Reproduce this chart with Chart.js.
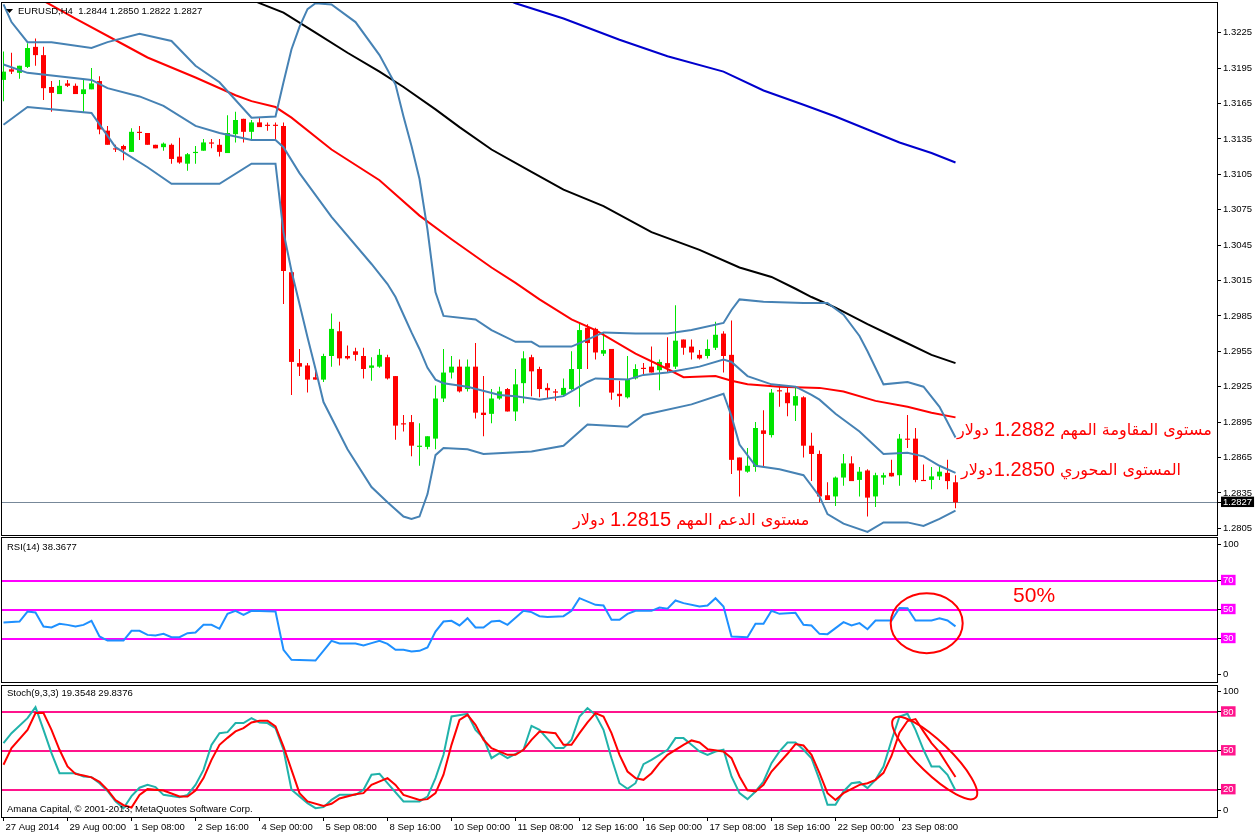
<!DOCTYPE html>
<html>
<head>
<meta charset="utf-8">
<script src="https://cdn.jsdelivr.net/npm/chart.js@4.4.1/dist/chart.umd.min.js"></script>
<style>
  html, body { margin: 0; padding: 0; background: #fff; }
  #wrap { position: relative; width: 1258px; height: 835px; overflow: hidden; }
  #wrap canvas { position: absolute; left: 0; }
</style>
</head>
<body>
<div id="wrap">
  <canvas id="mainChart" width="1258" height="537" style="top:0px"></canvas>
  <canvas id="rsiChart" width="1258" height="147" style="top:536px"></canvas>
  <canvas id="stochChart" width="1258" height="152" style="top:683px"></canvas>
</div>
<script>
// EURUSD H4 candles, one value per bar (bar 0 = 27 Aug 2014 16:00)
const opens = [1.3185,1.3194,1.3191,1.3196,1.3213,1.3206,1.3179,1.3173,1.3182,1.3180,
  1.3173,1.3177,1.3184,1.3142,1.3127,1.3129,1.3124,1.3141,1.3140,1.3130,
  1.3128,1.3130,1.3120,1.3114,1.3123,1.3125,1.3132,1.3130,1.3123,1.3139,
  1.3152,1.3141,1.3149,1.3147,1.3147,1.3146,1.3022,1.2945,1.2943,1.2933,
  1.2931,1.2951,1.2972,1.2951,1.2955,1.2951,1.2941,1.2942,1.2950,1.2934,
  1.2894,1.2895,1.2874,1.2874,1.2881,1.2915,1.2937,1.2942,1.2923,1.2942,
  1.2903,1.2902,1.2915,1.2923,1.2904,1.2928,1.2950,1.2940,1.2924,1.2921,
  1.2918,1.2923,1.2940,1.2975,1.2974,1.2953,1.2957,1.2919,1.2916,1.2932,
  1.2941,1.2942,1.2939,1.2945,1.2942,1.2965,1.2959,1.2952,1.2951,1.2958,
  1.2970,1.2952,1.2865,1.2853,1.2857,1.2888,1.2884,1.2922,1.2920,1.2909,
  1.2916,1.2875,1.2868,1.2833,1.2832,1.2848,1.2860,1.2846,1.2854,1.2832,
  1.2848,1.2852,1.2850,1.2881,1.2881,1.2846,1.2846,1.2849,1.2852,1.2844];
const highs = [1.3209,1.3208,1.3197,1.3216,1.3220,1.3213,1.3184,1.3185,1.3185,1.3182,
  1.3185,1.3195,1.3188,1.3146,1.3130,1.3130,1.3144,1.3146,1.3140,1.3130,
  1.3132,1.3131,1.3136,1.3123,1.3129,1.3135,1.3135,1.3135,1.3155,1.3158,
  1.3152,1.3151,1.3153,1.3149,1.3149,1.3149,1.3024,1.2957,1.2945,1.2938,
  1.2953,1.2987,1.2980,1.2960,1.2958,1.2958,1.2950,1.2957,1.2952,1.2934,
  1.2901,1.2901,1.2894,1.2883,1.2926,1.2957,1.2951,1.2948,1.2948,1.2962,
  1.2934,1.2923,1.2925,1.2924,1.2940,1.2955,1.2952,1.2942,1.2928,1.2923,
  1.2932,1.2955,1.2979,1.2978,1.2975,1.2971,1.2957,1.2930,1.2951,1.2944,
  1.2945,1.2959,1.2948,1.2967,1.2994,1.2965,1.2965,1.2956,1.2965,1.2980,
  1.2972,1.2981,1.2865,1.2873,1.2895,1.2905,1.2923,1.2927,1.2924,1.2924,
  1.2917,1.2886,1.2871,1.2844,1.2849,1.2868,1.2866,1.2857,1.2855,1.2852,
  1.2852,1.2863,1.2885,1.2901,1.2890,1.2859,1.2857,1.2858,1.2863,1.2850];
const lows = [1.3167,1.3190,1.3186,1.3195,1.3197,1.3168,1.3158,1.3173,1.3179,1.3173,
  1.3158,1.3177,1.3139,1.3130,1.3124,1.3117,1.3124,1.3134,1.3130,1.3127,
  1.3125,1.3114,1.3114,1.3108,1.3114,1.3125,1.3127,1.3120,1.3123,1.3132,
  1.3132,1.3134,1.3145,1.3142,1.3134,1.2995,1.2918,1.2934,1.2920,1.2931,
  1.2929,1.2942,1.2943,1.2948,1.2947,1.2932,1.2930,1.2941,1.2931,1.2880,
  1.2887,1.2866,1.2858,1.2872,1.2872,1.2912,1.2932,1.2920,1.2921,1.2898,
  1.2883,1.2894,1.2914,1.2904,1.2896,1.2911,1.2917,1.2916,1.2915,1.2913,
  1.2917,1.2922,1.2908,1.2940,1.2948,1.2951,1.2914,1.2908,1.2915,1.2931,
  1.2935,1.2937,1.2922,1.2937,1.2940,1.2952,1.2948,1.2948,1.2949,1.2956,
  1.2937,1.2851,1.2832,1.2852,1.2853,1.2857,1.2882,1.2908,1.2900,1.2896,
  1.2865,1.2845,1.2827,1.2829,1.2824,1.2841,1.2845,1.2832,1.2815,1.2823,
  1.2842,1.2849,1.2841,1.2873,1.2844,1.2845,1.2838,1.2846,1.2838,1.2822];
const closes = [1.3192,1.3192,1.3197,1.3212,1.3206,1.3178,1.3174,1.3180,1.3180,1.3173,
  1.3177,1.3182,1.3143,1.3130,1.3126,1.3126,1.3141,1.3140,1.3130,1.3127,
  1.3131,1.3118,1.3115,1.3122,1.3124,1.3132,1.3131,1.3124,1.3140,1.3151,
  1.3141,1.3149,1.3145,1.3146,1.3146,1.3023,1.2946,1.2942,1.2931,1.2931,
  1.2951,1.2974,1.2949,1.2949,1.2952,1.2940,1.2943,1.2952,1.2932,1.2892,
  1.2893,1.2875,1.2875,1.2883,1.2915,1.2937,1.2942,1.2921,1.2942,1.2903,
  1.2901,1.2915,1.2921,1.2904,1.2927,1.2949,1.2938,1.2923,1.2922,1.2920,
  1.2924,1.2940,1.2973,1.2962,1.2954,1.2956,1.2920,1.2917,1.2931,1.2940,
  1.2940,1.2937,1.2946,1.2941,1.2964,1.2958,1.2954,1.2949,1.2957,1.2969,
  1.2951,1.2863,1.2854,1.2858,1.2890,1.2885,1.2920,1.2921,1.2911,1.2917,
  1.2875,1.2868,1.2832,1.2829,1.2848,1.2860,1.2845,1.2853,1.2831,1.2850,
  1.2850,1.2849,1.2881,1.2880,1.2846,1.2845,1.2849,1.2853,1.2845,1.2827];

// indicator lines as [bar, value] readings
const bbUpper = [[0,1.3249],[1,1.3234],[3,1.3217],[6,1.3217],[11,1.3212],[13,1.3217],[17,1.3224],[21,1.3218],
  [24,1.3197],[27,1.3183],[29,1.3168],[31,1.3153],[34,1.3154],[35,1.3183],[36,1.3211],[37,1.3230],[38,1.3245],
  [39,1.3250],[41,1.3249],[44,1.3234],[47,1.3206],[49,1.3181],[50,1.3154],[51,1.3129],[52,1.3101],[53,1.3058],
  [54,1.3005],[55,1.2985],[59,1.2982],[61,1.2973],[64,1.2963],[66,1.2963],[67,1.2959],[71,1.2959],[72,1.2962],
  [75,1.2971],[79,1.2970],[83,1.2970],[86,1.2973],[90,1.2979],[91,1.2990],[92,1.2999],[95,1.2997],[100,1.2996],
  [103,1.2996],[105,1.2986],[107,1.2968],[108,1.2955],[110,1.2927],[113,1.2929],[115,1.2925],[117,1.2908],[119,1.2882]];
const bbMiddle = [[0,1.3198],[3,1.3191],[11,1.3185],[13,1.3178],[17,1.3171],[20,1.3163],[24,1.3146],[27,1.3140],
  [31,1.3134],[34,1.3134],[35,1.3128],[37,1.3106],[41,1.3069],[46,1.3029],[48,1.3012],[49,1.3001],[50,1.2986],
  [51,1.2971],[52,1.2957],[53,1.2941],[54,1.2931],[55,1.2928],[58,1.2925],[62,1.2918],[64,1.2917],[67,1.2914],
  [70,1.2917],[73,1.2929],[74,1.2932],[78,1.2931],[80,1.2935],[83,1.2937],[87,1.2942],[90,1.2948],[91,1.2946],
  [93,1.2934],[96,1.2927],[99,1.2925],[101,1.2918],[102,1.2914],[104,1.2902],[107,1.2887],[110,1.2868],
  [113,1.2869],[115,1.2866],[117,1.2858],[119,1.2852]];
const bbLower = [[0,1.3147],[3,1.3162],[11,1.3157],[14,1.3128],[18,1.3111],[21,1.3097],[27,1.3097],[31,1.3114],
  [34,1.3114],[35,1.3056],[36,1.3023],[37,1.2995],[38,1.2967],[39,1.2940],[40,1.2912],[43,1.2872],[46,1.2840],
  [48,1.2827],[50,1.2815],[51,1.2813],[52,1.2815],[53,1.2834],[54,1.2867],[55,1.2873],[58,1.2872],[60,1.2868],
  [63,1.2869],[66,1.2870],[70,1.2875],[73,1.2893],[78,1.2891],[80,1.2901],[86,1.2910],[90,1.2919],[91,1.2900],
  [92,1.2876],[94,1.2858],[97,1.2855],[100,1.2850],[102,1.2832],[103,1.2817],[105,1.2809],[108,1.2802],
  [110,1.2810],[113,1.2810],[115,1.2807],[117,1.2813],[119,1.2820]];
const redMa = [[0,1.3272],[5,1.3252],[9,1.3237],[15,1.3215],[18,1.3204],[24,1.3187],[29,1.3172],[31,1.3167],
  [34,1.3162],[36,1.3153],[41,1.3126],[47,1.3100],[52,1.3070],[56,1.3050],[61,1.3026],[64,1.3013],[67,1.2999],
  [71,1.2982],[74,1.2973],[79,1.2953],[83,1.2940],[85,1.2933],[89,1.2934],[91,1.2930],[93,1.2927],[97,1.2925],
  [102,1.2924],[105,1.2921],[109,1.2913],[113,1.2908],[116,1.2903],[119,1.2899]];
const blackMa = [[28,1.3263],[32,1.3250],[35,1.3242],[39,1.3225],[43,1.3208],[47,1.3192],[50,1.3179],[54,1.3160],
  [57,1.3145],[61,1.3126],[66,1.3107],[70,1.3092],[75,1.3078],[81,1.3056],[87,1.3041],[92,1.3026],[96,1.3018],
  [99,1.3008],[101,1.3001],[104,1.2992],[108,1.2978],[112,1.2965],[116,1.2952],[119,1.2945]];
const blueMa = [[60,1.3262],[64,1.3250],[70,1.3237],[77,1.3219],[83,1.3205],[90,1.3192],[95,1.3176],[100,1.3164],
  [104,1.3154],[108,1.3143],[112,1.3132],[116,1.3123],[119,1.3115]];

const rsi = [[0,41.0],[2,41.7],[3,48.6],[4,47.9],[5,38.3],[6,37.6],[7,40.1],[8,39.4],[9,38.3],[10,39.4],[11,42.2],
  [12,31.4],[13,28.6],[15,28.6],[16,35.3],[17,35.3],[18,32.5],[19,32.1],[20,33.2],[21,30.9],[22,30.9],[23,33.7],
  [24,34.1],[25,39.4],[26,39.4],[27,36.7],[28,47.0],[29,49.1],[30,46.3],[31,49.1],[34,48.6],[35,22.2],[36,15.3],
  [39,14.8],[41,28.4],[42,26.6],[44,26.6],[45,25.2],[46,26.8],[47,28.4],[48,26.3],[49,22.2],[50,22.2],[51,21.0],
  [52,21.5],[53,23.8],[54,34.8],[55,41.7],[56,42.2],[57,39.0],[58,44.0],[59,37.6],[60,37.6],[61,41.7],[62,42.2],
  [63,39.4],[65,49.1],[66,48.2],[67,45.4],[68,44.9],[70,45.4],[71,49.1],[72,57.8],[74,53.2],[75,52.8],[76,42.9],
  [77,42.9],[78,47.0],[79,49.1],[81,49.1],[82,51.4],[83,50.5],[84,56.2],[85,54.4],[87,52.1],[88,52.8],[89,57.8],
  [90,52.1],[91,31.4],[93,30.9],[94,40.1],[95,40.1],[96,49.1],[97,47.0],[99,47.7],[100,39.4],[101,39.0],[102,33.2],
  [103,33.0],[105,41.3],[106,39.0],[107,40.6],[108,36.4],[109,42.4],[111,42.4],[112,51.1],[113,50.9],[114,42.4],
  [116,42.4],[117,44.0],[118,42.4],[119,38.4]];
const stochK = [[0,55.9],[1,63.6],[3,75.2],[4,83.7],[5,66.2],[6,48.2],[7,32.7],[9,32.7],[10,30.2],[11,29.7],
  [12,25.0],[13,19.0],[14,11.0],[15,5.7],[16,15.0],[17,21.5],[18,23.7],[19,22.0],[20,16.0],[22,14.2],[23,16.0],
  [24,23.7],[25,35.3],[26,54.6],[27,63.6],[28,64.4],[29,71.4],[30,71.4],[31,75.2],[32,71.9],[33,71.4],[34,67.5],
  [35,50.8],[36,19.9],[38,9.6],[39,5.7],[40,6.5],[41,12.1],[42,16.0],[44,16.0],[45,19.9],[46,31.5],[47,32.2],
  [48,25.0],[50,10.9],[52,10.9],[53,14.7],[54,28.9],[55,46.9],[56,76.5],[58,78.6],[59,66.2],[60,59.8],[61,44.3],
  [62,48.2],[63,44.3],[65,50.8],[66,69.3],[67,66.2],[69,52.1],[70,52.1],[71,58.5],[72,76.5],[73,83.0],[74,77.8],
  [75,66.2],[76,44.3],[77,25.0],[78,20.6],[79,25.0],[80,39.7],[81,43.0],[82,46.9],[83,50.8],[84,59.8],[85,59.8],
  [86,54.6],[87,49.5],[88,46.9],[89,49.5],[90,50.8],[91,30.2],[92,17.3],[93,12.7],[94,18.6],[95,26.3],[96,40.5],
  [97,49.5],[98,56.4],[99,56.4],[100,50.8],[101,44.3],[102,27.6],[103,8.3],[104,8.3],[105,18.6],[106,25.0],
  [107,25.8],[108,21.2],[109,27.6],[110,37.9],[111,58.0],[112,76.5],[113,78.6],[114,66.2],[115,50.8],[116,37.9],
  [117,37.9],[118,31.5],[119,19.4]];
const stochD = [[0,39.2],[1,52.1],[3,66.2],[4,79.1],[5,79.1],[6,66.2],[7,50.8],[8,37.9],[9,32.2],[10,31.0],
  [11,29.5],[12,26.0],[13,19.9],[14,12.0],[15,8.0],[16,6.2],[17,16.0],[18,20.4],[20,19.4],[22,14.7],[23,14.7],
  [24,19.4],[25,28.9],[26,43.0],[27,54.6],[28,60.0],[29,65.0],[30,67.5],[31,71.9],[32,73.2],[33,73.2],[34,68.8],
  [35,53.3],[36,35.3],[37,17.3],[38,10.9],[40,7.5],[41,9.1],[42,13.2],[44,16.5],[45,17.3],[46,23.7],[48,28.9],
  [49,23.7],[50,16.0],[52,12.1],[53,12.7],[54,17.3],[55,31.5],[56,54.6],[57,73.9],[58,77.8],[59,70.1],[60,58.5],
  [61,52.1],[63,46.9],[64,46.9],[65,50.8],[66,58.5],[67,64.9],[69,63.6],[70,54.6],[71,54.6],[72,63.6],[73,71.9],
  [74,79.1],[75,76.5],[76,63.6],[77,46.9],[78,34.0],[79,28.9],[80,27.6],[81,32.7],[82,40.5],[83,46.9],[85,54.6],
  [86,58.0],[87,56.4],[88,51.3],[90,49.5],[91,44.3],[92,30.2],[93,19.4],[94,18.6],[95,23.7],[96,34.0],[98,47.7],
  [99,55.2],[100,54.1],[101,46.9],[102,32.7],[103,17.3],[104,12.1],[105,17.3],[107,23.7],[108,25.0],[109,27.6],
  [110,33.0],[111,46.0],[112,64.0],[113,73.0],[114,74.5],[115,65.0],[116,55.9],[117,49.0],[118,39.2],[119,29.8]];

// axis labels
const timeLabels = ['27 Aug 2014','29 Aug 00:00','1 Sep 08:00','2 Sep 16:00','4 Sep 00:00','5 Sep 08:00',
  '8 Sep 16:00','10 Sep 00:00','11 Sep 08:00','12 Sep 16:00','16 Sep 00:00','17 Sep 08:00','18 Sep 16:00',
  '22 Sep 00:00','23 Sep 08:00'];
const priceTicks = [1.2805,1.2835,1.2865,1.2895,1.2925,1.2955,1.2985,1.3015,1.3045,1.3075,1.3105,1.3135,1.3165,1.3195,1.3225];
const rsiLevels = [30, 50, 70];
const stochLevels = [20, 50, 80];
const rsiScaleLabels = [[5,'0'],[30,'30'],[50,'50'],[70,'70'],[95,'100']];
const stochScaleLabels = [[4,'0'],[20,'20'],[50,'50'],[80,'80'],[96,'100']];

const symbolTitle = 'EURUSD,H4';
const rsiTitle = 'RSI(14) 38.3677';
const stochTitle = 'Stoch(9,3,3) 19.3548 29.8376';
const copyright = 'Amana Capital, \u00a9 2001-2013, MetaQuotes Software Corp.';

const last = closes.length - 1;
const lastClose = closes[last];

const FONT = "'Liberation Sans', 'DejaVu Sans', Arial, sans-serif";
const AR_FONT = "'DejaVu Sans', sans-serif";
Chart.defaults.font.family = FONT;
Chart.defaults.font.size = 9.5;
Chart.defaults.color = '#000';
Chart.defaults.animation = false;
Chart.defaults.events = [];
Chart.defaults.plugins.legend.display = false;
Chart.defaults.plugins.tooltip.enabled = false;

const BULL = '#00E400', BEAR = '#FF0000';
const X_MIN = -0.3125, X_MAX = 151.6875;
const BOX_PAD = { top: 0, bottom: -1, left: 2, right: 2 };

// fixed axis sizes so the three panes line up exactly
function fitY(s) { s.width = 41; s.paddingTop = 0; s.paddingBottom = 0; }

function xAxis(show) {
  return {
    type: 'linear', min: X_MIN, max: X_MAX, display: show, offset: false,
    afterBuildTicks: s => { s.ticks = timeLabels.map((_, k) => ({ value: k * 8 })); },
    afterFit: s => { s.height = show ? 18 : 0; s.paddingLeft = 0; s.paddingRight = 0; },
    grid: { drawOnChartArea: false, drawTicks: true, tickLength: 4, color: '#000', offset: false },
    border: { display: false },
    ticks: { autoSkip: false, maxRotation: 0, align: 'start', padding: 1, labelOffset: 2,
      callback: v => timeLabels[Math.round(v / 8)] || '' }
  };
}

function levelAxis(min, max, scaleLabels, levels, boxColor) {
  const isLevel = c => c.tick && levels.includes(c.tick.value);
  return {
    type: 'linear', position: 'right', min, max,
    afterBuildTicks: s => { s.ticks = scaleLabels.map(p => ({ value: p[0] })); },
    afterFit: fitY,
    grid: { drawOnChartArea: false, tickLength: 4, color: '#000' },
    border: { display: false },
    ticks: { autoSkip: false, padding: 2,
      callback: v => { const hit = scaleLabels.find(p => p[0] === v); return hit ? hit[1] : ''; },
      showLabelBackdrop: true, backdropPadding: BOX_PAD,
      backdropColor: c => isLevel(c) ? boxColor : 'rgba(0,0,0,0)',
      color: c => isLevel(c) ? '#fff' : '#000' }
  };
}

function lineDs(points, color, width, order) {
  return { type: 'line', data: points.map(p => ({ x: p[0], y: p[1] })), borderColor: color,
    borderWidth: width, pointRadius: 0, tension: 0, fill: false, order: order || 1 };
}

function drawFrame(chart) {
  const { ctx, chartArea: a } = chart;
  ctx.save();
  ctx.strokeStyle = '#000'; ctx.lineWidth = 1;
  ctx.strokeRect(Math.floor(a.left) + 0.5, Math.floor(a.top) + 0.5, Math.round(a.right - a.left), Math.round(a.bottom - a.top));
  ctx.restore();
}

function drawLevels(chart, levels, color) {
  const { ctx, chartArea: a, scales: { y } } = chart;
  ctx.save();
  ctx.strokeStyle = color; ctx.lineWidth = 2;
  levels.forEach(v => {
    const py = Math.round(y.getPixelForValue(v));
    ctx.beginPath(); ctx.moveTo(a.left, py); ctx.lineTo(a.right, py); ctx.stroke();
  });
  ctx.restore();
}

function label(ctx, text, x, y, font, color) {
  ctx.save();
  ctx.font = font; ctx.fillStyle = color || '#000';
  ctx.textAlign = 'left'; ctx.textBaseline = 'middle';
  ctx.fillText(text, x, y);
  ctx.restore();
}

// Arabic note with a price inside: the Arabic words and the number use different
// fonts, so lay the pieces out left to right in their visual (RTL) order.
function drawNote(ctx, text, x, y) {
  const [head, num, tail] = text.split(/(\d+\.\d+)/);
  const arFont = '16px ' + AR_FONT, numFont = '20px ' + FONT;
  const pieces = [
    { t: tail.trim(), font: arFont, rtl: true },
    { gap: /^\s/.test(tail) },
    { t: num, font: numFont, rtl: false },
    { gap: /\s$/.test(head) },
    { t: head.trim(), font: arFont, rtl: true }
  ];
  ctx.save();
  ctx.fillStyle = '#FF0000';
  ctx.textAlign = 'left';
  ctx.textBaseline = 'middle';
  let cx = x;
  pieces.forEach(p => {
    if ('gap' in p) { ctx.font = arFont; cx += p.gap ? ctx.measureText(' ').width : 1; return; }
    if (!p.t) return;
    ctx.font = p.font;
    ctx.direction = p.rtl ? 'rtl' : 'ltr';
    ctx.fillText(p.t, cx, y);
    cx += ctx.measureText(p.t).width;
  });
  ctx.restore();
}

// ---------- main price window ----------
const candleColors = opens.map((o, i) => closes[i] >= o ? BULL : BEAR);
const priceNotes = [
  { text: 'مستوى المقاومة المهم 1.2882 دولار', bar: 119.2, price: 1.28875 },
  { text: 'المستوى المحوري 1.2850دولار', bar: 119.7, price: 1.28536 },
  { text: 'مستوى الدعم المهم 1.2815 دولار', bar: 71.2, price: 1.28112 }
];

const mainDeco = {
  id: 'mainDeco',
  beforeDatasetsDraw(chart) {
    const { ctx, chartArea: a, scales: { y } } = chart;
    const py = Math.round(y.getPixelForValue(lastClose)) + 0.5;
    ctx.save();
    ctx.strokeStyle = '#778899'; ctx.lineWidth = 1;
    ctx.beginPath(); ctx.moveTo(a.left, py); ctx.lineTo(a.right, py); ctx.stroke();
    ctx.restore();
  },
  afterDatasetsDraw(chart) {
    const { ctx, chartArea: a, scales: { x, y } } = chart;
    // little menu triangle + symbol header
    ctx.save();
    ctx.fillStyle = '#000';
    ctx.beginPath();
    ctx.moveTo(a.left + 5, a.top + 7); ctx.lineTo(a.left + 12, a.top + 7); ctx.lineTo(a.left + 8.5, a.top + 11);
    ctx.closePath(); ctx.fill();
    ctx.restore();
    const ohlc = [opens[last], highs[last], lows[last], closes[last]].map(v => v.toFixed(4)).join(' ');
    label(ctx, symbolTitle + '  ' + ohlc, a.left + 17, a.top + 9, '9.5px ' + FONT);

    priceNotes.forEach(n => drawNote(ctx, n.text, x.getPixelForValue(n.bar), y.getPixelForValue(n.price)));
    drawFrame(chart);
  }
};

new Chart(document.getElementById('mainChart'), {
  type: 'line',
  data: {
    datasets: [
      { type: 'bar', data: highs.map((h, i) => ({ x: i, y: [lows[i], h] })), backgroundColor: candleColors,
        grouped: false, maxBarThickness: 1, inflateAmount: 0, borderWidth: 0, order: 4 },
      { type: 'bar', data: opens.map((o, i) => ({ x: i, y: [o, closes[i]] })), backgroundColor: candleColors,
        grouped: false, maxBarThickness: 5, minBarLength: 1, inflateAmount: 0, borderWidth: 0, order: 3 },
      lineDs(bbUpper, '#4682B4', 2),
      lineDs(bbMiddle, '#4682B4', 2),
      lineDs(bbLower, '#4682B4', 2),
      lineDs(redMa, '#FF0000', 2),
      lineDs(blackMa, '#000000', 2),
      lineDs(blueMa, '#0000CD', 2)
    ]
  },
  options: {
    responsive: false,
    layout: { padding: { left: 1, top: 2, right: 0, bottom: 2 } },
    scales: {
      x: xAxis(false),
      y: {
        type: 'linear', position: 'right', min: 1.279932, max: 1.325102,
        afterBuildTicks: s => {
          s.ticks = priceTicks.concat([lastClose]).sort((p, q) => p - q).map(v => ({ value: v }));
        },
        afterFit: fitY,
        grid: { drawOnChartArea: false, tickLength: 4, color: '#000' },
        border: { display: false },
        ticks: { autoSkip: false, padding: 2, callback: v => v.toFixed(4),
          showLabelBackdrop: true, backdropPadding: BOX_PAD,
          backdropColor: c => c.tick && c.tick.value === lastClose ? '#000' : 'rgba(0,0,0,0)',
          color: c => c.tick && c.tick.value === lastClose ? '#fff' : '#000' }
      }
    }
  },
  plugins: [mainDeco]
});

// ---------- RSI window ----------
const rsiDeco = {
  id: 'rsiDeco',
  beforeDatasetsDraw(chart) { drawLevels(chart, rsiLevels, '#FF00FF'); },
  afterDatasetsDraw(chart) {
    const { ctx, chartArea: a, scales: { x, y } } = chart;
    label(ctx, rsiTitle, a.left + 6, a.top + 10, '9.5px ' + FONT);
    ctx.save();
    ctx.strokeStyle = '#FF0000'; ctx.lineWidth = 2;
    ctx.beginPath();
    ctx.ellipse(x.getPixelForValue(115.4), y.getPixelForValue(40.6), 36, 30, 0, 0, Math.PI * 2);
    ctx.stroke();
    ctx.restore();
    label(ctx, '50%', x.getPixelForValue(126.2), y.getPixelForValue(59.4), '21px ' + FONT, '#FF0000');
    drawFrame(chart);
  }
};

new Chart(document.getElementById('rsiChart'), {
  type: 'line',
  data: { datasets: [lineDs(rsi, '#1E90FF', 2)] },
  options: {
    responsive: false,
    layout: { padding: { left: 1, top: 1, right: 0, bottom: 1 } },
    scales: { x: xAxis(false), y: levelAxis(0, 100, rsiScaleLabels, rsiLevels, '#FF00FF') }
  },
  plugins: [rsiDeco]
});

// ---------- Stochastic window ----------
const stochDeco = {
  id: 'stochDeco',
  beforeDatasetsDraw(chart) { drawLevels(chart, stochLevels, '#FF148C'); },
  afterDatasetsDraw(chart) {
    const { ctx, chartArea: a, scales: { x, y } } = chart;
    label(ctx, stochTitle, a.left + 6, a.top + 8, '9.5px ' + FONT);
    label(ctx, copyright, a.left + 6, a.bottom - 8, '9.5px ' + FONT);
    ctx.save();
    ctx.strokeStyle = '#FF0000'; ctx.lineWidth = 2;
    ctx.beginPath();
    ctx.ellipse(x.getPixelForValue(116.4), y.getPixelForValue(44.4), 57, 16, 44 * Math.PI / 180, 0, Math.PI * 2);
    ctx.stroke();
    ctx.restore();
    drawFrame(chart);
  }
};

new Chart(document.getElementById('stochChart'), {
  type: 'line',
  data: { datasets: [lineDs(stochK, '#20B2AA', 2, 2), lineDs(stochD, '#FF0000', 2, 1)] },
  options: {
    responsive: false,
    layout: { padding: { left: 1, top: 2, right: 0, bottom: 0 } },
    scales: { x: xAxis(true), y: levelAxis(-1.1, 100.8, stochScaleLabels, stochLevels, '#FF148C') }
  },
  plugins: [stochDeco]
});
</script>
</body>
</html>
